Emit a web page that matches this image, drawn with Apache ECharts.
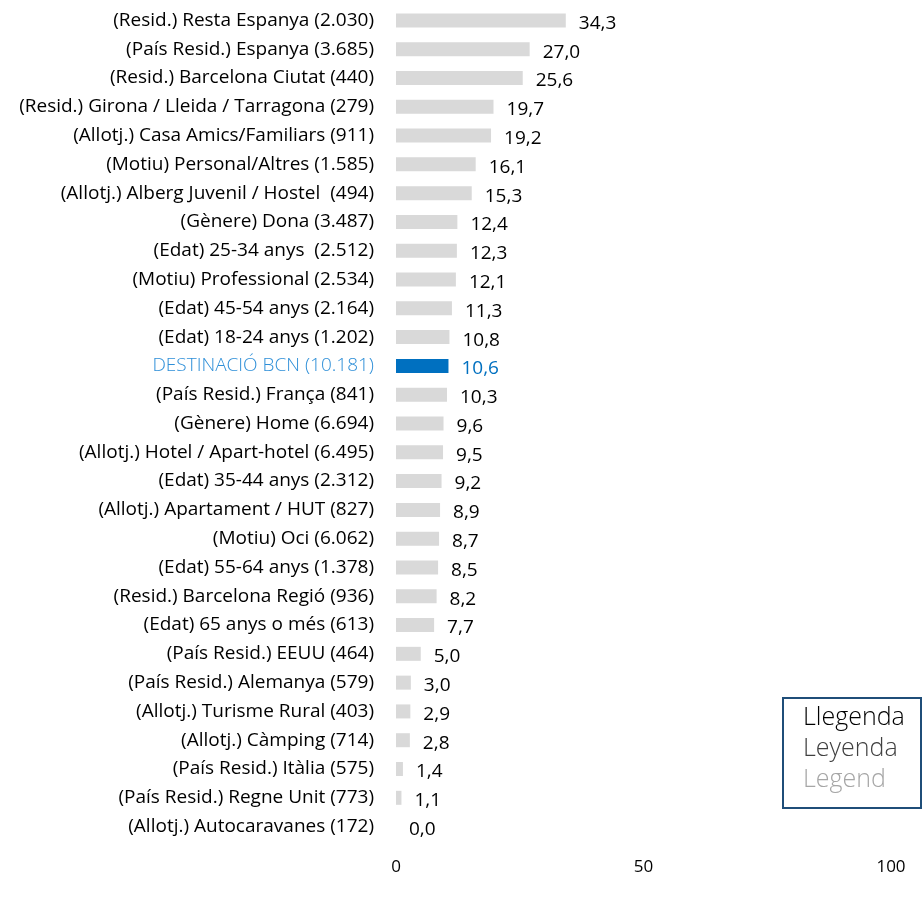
<!DOCTYPE html>
<html>
<head>
<meta charset="utf-8">
<script src="https://cdn.jsdelivr.net/npm/echarts@6/dist/echarts.min.js"></script>
<style>
  html, body { margin: 0; height: 100%; background: #fff; }
  #chart { width: 922px; height: 901px; }
</style>
</head>
<body>
<div id="chart"></div>
<script>
// categories, top to bottom
var categories = [
  '(Resid.) Resta Espanya (2.030)',
  '(País Resid.) Espanya (3.685)',
  '(Resid.) Barcelona Ciutat (440)',
  '(Resid.) Girona / Lleida / Tarragona (279)',
  '(Allotj.) Casa Amics/Familiars (911)',
  '(Motiu) Personal/Altres (1.585)',
  '(Allotj.) Alberg Juvenil / Hostel  (494)',
  '(Gènere) Dona (3.487)',
  '(Edat) 25-34 anys  (2.512)',
  '(Motiu) Professional (2.534)',
  '(Edat) 45-54 anys (2.164)',
  '(Edat) 18-24 anys (1.202)',
  'DESTINACIÓ BCN (10.181)',
  '(País Resid.) França (841)',
  '(Gènere) Home (6.694)',
  '(Allotj.) Hotel / Apart-hotel (6.495)',
  '(Edat) 35-44 anys (2.312)',
  '(Allotj.) Apartament / HUT (827)',
  '(Motiu) Oci (6.062)',
  '(Edat) 55-64 anys (1.378)',
  '(Resid.) Barcelona Regió (936)',
  '(Edat) 65 anys o més (613)',
  '(País Resid.) EEUU (464)',
  '(País Resid.) Alemanya (579)',
  '(Allotj.) Turisme Rural (403)',
  '(Allotj.) Càmping (714)',
  '(País Resid.) Itàlia (575)',
  '(País Resid.) Regne Unit (773)',
  '(Allotj.) Autocaravanes (172)'
];
var values = [34.3, 27.0, 25.6, 19.7, 19.2, 16.1, 15.3, 12.4, 12.3, 12.1, 11.3, 10.8, 10.6,
  10.3, 9.6, 9.5, 9.2, 8.9, 8.7, 8.5, 8.2, 7.7, 5.0, 3.0, 2.9, 2.8, 1.4, 1.1, 0.0];
var highlight = 'DESTINACIÓ BCN (10.181)';
var xTicks = [0, 50, 100];
var legendLines = ['Llegenda', 'Leyenda', 'Legend'];

var grey = '#d9d9d9', blue = '#0070c0', lightBlue = '#2e8fd8';

function fmt(v) { return v.toFixed(1).replace('.', ','); }

var chart = echarts.init(document.getElementById('chart'), null, { renderer: 'canvas' });

var barData = values.map(function (v, i) {
  var hi = categories[i] === highlight;
  return {
    value: v,
    itemStyle: { color: hi ? blue : grey },
    label: { color: hi ? blue : '#000' }
  };
});

chart.setOption({
  animation: false,
  textStyle: { fontFamily: 'Open Sans' },
  grid: { left: 396, right: 31, top: 6, bottom: 60, containLabel: false },
  xAxis: {
    type: 'value', min: 0, max: 100, interval: 50,
    axisLine: { show: false }, axisTick: { show: false }, splitLine: { show: false },
    axisLabel: {
      margin: 18, color: '#000', fontSize: 17, fontFamily: 'Open Sans',
      formatter: function (v) { return xTicks.indexOf(v) >= 0 ? String(v) : ''; }
    }
  },
  yAxis: {
    type: 'category', inverse: true, data: categories,
    axisLine: { show: false }, axisTick: { show: false },
    axisLabel: {
      margin: 22, color: '#000', fontSize: 19, fontFamily: 'Open Sans',
      formatter: function (v) { return v === highlight ? '{hi|' + v + '}' : v; },
      rich: { hi: { color: lightBlue, fontSize: 19, fontWeight: 300, fontFamily: 'Open Sans' } }
    }
  },
  series: [{
    type: 'bar', data: barData, barWidth: 14,
    label: {
      show: true, position: 'right', distance: 13, offset: [0, 3],
      fontSize: 19, fontFamily: 'Open Sans',
      formatter: function (p) { return fmt(p.value); }
    }
  }],
  graphic: [{
    type: 'group', left: 782, top: 697,
    children: [
      { type: 'rect', shape: { x: 0, y: 0, width: 138, height: 110 },
        style: { fill: '#fff', stroke: '#1f4e79', lineWidth: 2 } },
      { type: 'text', left: 20, top: 7, style: { text: legendLines[0], fill: '#000', font: '300 25px "Open Sans"' } },
      { type: 'text', left: 20, top: 38, style: { text: legendLines[1], fill: '#404040', font: '300 25px "Open Sans"' } },
      { type: 'text', left: 20, top: 69, style: { text: legendLines[2], fill: '#a6a6a6', font: '300 25px "Open Sans"' } }
    ]
  }]
});
</script>
</body>
</html>
